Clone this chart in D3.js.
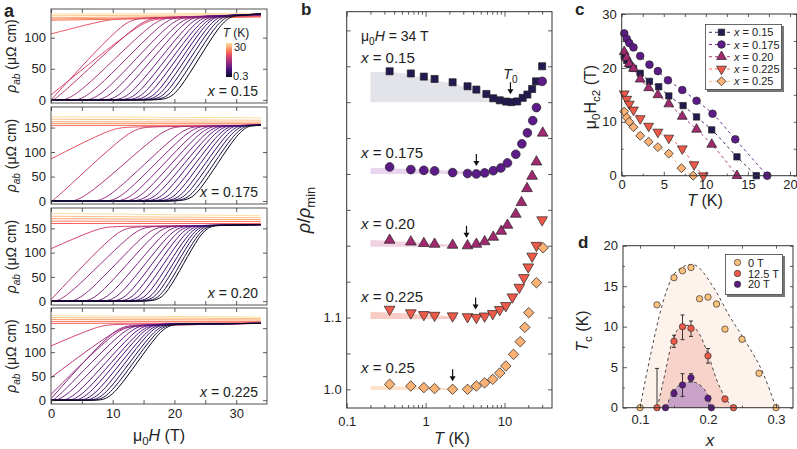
<!DOCTYPE html>
<html><head><meta charset="utf-8">
<script src="https://cdn.jsdelivr.net/npm/d3@7"></script>
<style>body{margin:0;background:#fff}</style>
</head><body>
<svg id="chart" width="797" height="449"></svg>
<script>
const FONT = '"Liberation Sans", Arial, Helvetica, sans-serif';

// ================= DATA =================
// panel a: rows [T (K), rho at 0 T, field where rise starts, field where rise ends, rho at end of rise, rho at 34 T]
const a015 = [
 [0.3,0,20.2,27.8,134,138],[0.5,0,19.4,27.2,134,138],[0.7,0,18.6,26.6,134,138],[1.0,0,17.8,26.0,134,138],
 [1.3,0,17.0,25.4,134,138],[1.6,0,16.0,24.8,133,138],[2.0,0,15.0,24.2,133,138],[2.5,0,13.9,23.5,133,138],
 [3.0,0,12.7,22.7,133,138],[3.6,0,11.2,21.8,133,137],[4.3,0,9.6,20.8,132,137],[5.1,0,7.9,19.7,132,137],
 [6.0,0,6.0,18.4,132,137],[7.2,0,3.8,16.8,131,136],[8.6,0,0.9,14.7,131,136],[10,0,0,12,130,136],
 [12,8,0,15,129,135],[14,106,0,9,129,135],
 [17,128,null,null,128,133],[20,130,null,null,130,134],[23,132,null,null,132,135],[26,135,null,null,135,137],[30,138,null,null,138,139]
];
const a0175 = [
 [0.3,0,23.4,30.6,153,155],[0.5,0,22.7,30.1,153,155],[0.7,0,21.9,29.5,153,155],[1.0,0,21.1,28.9,153,155],
 [1.3,0,20.2,28.2,153,155],[1.6,0,19.2,27.6,153,155],[2.0,0,18.1,26.9,153,155],[2.5,0,17.0,26.2,153,155],
 [3.0,0,15.8,25.4,152,155],[3.6,0,14.5,24.5,152,155],[4.3,0,13.0,23.6,152,155],[5.1,0,11.3,22.5,152,155],
 [6.0,0,9.2,21.2,151,155],[7.5,0,5.3,18.3,151,155],[10,0,0.4,13,150,155],[13,86,0,10,150,155],
 [17,154,null,null,154,155],[20,158,null,null,158,158],[23,162,null,null,162,161],[26,167,null,null,167,165],[30,172,null,null,172,170]
];
const a020 = [
 [0.3,0,18.5,24.5,155,158],[0.5,0,17.9,24.1,155,158],[0.7,0,17.2,23.6,155,158],[1.0,0,16.5,23.1,155,158],
 [1.3,0,15.6,22.6,155,158],[1.6,0,14.6,22.0,155,158],[2.0,0,13.5,21.3,155,158],[2.5,0,12.3,20.5,154,158],
 [3.0,0,10.9,19.7,154,158],[3.6,0,9.3,18.7,154,158],[4.3,0,7.4,17.4,154,157],[5.1,0,5.1,15.9,153,157],
 [6.3,0,2.2,13.8,153,157],[8,3,0,11,152,157],[11,108,0,8,153,157],
 [15,160,null,null,160,160],[18,165,null,null,165,164],[22,170,null,null,170,168],[26,175,null,null,175,172],[30,181,null,null,181,176]
];
const a0225 = [
 [0.3,0,10.0,18.0,158,160],[0.5,0,9.3,17.5,158,160],[0.7,0,8.6,17.0,158,160],[1.0,0,7.8,16.4,158,160],
 [1.3,0,6.9,15.9,158,160],[1.6,0,5.9,15.3,158,160],[2.0,0,4.9,14.7,157,160],[2.5,0,3.8,14.0,157,160],
 [3.0,0,2.4,13.2,157,160],[3.6,0,0.8,12.2,156,160],[4.5,3,0,10.5,155,160],[6,12,0,11,153,160],
 [8,47,0,11,153,160],[11,113,0,8,157,161],
 [15,160,null,null,160,161],[18,164,null,null,164,164],[22,168,null,null,168,167],[26,172,null,null,172,170],[30,176,null,null,176,173]
];
const aLabels = ["0.15","0.175","0.20","0.225"];
const aYTicks = [[0,50,100],[0,50,100,150],[0,50,100,150],[0,50,100,150]];
const aXTicks = [0,10,20,30];

// panel b: rho/rho_min vs T at 34 T
const bNames = ["0.15","0.175","0.20","0.225","0.25"];
const bT015  = [0.35,0.65,0.95,1.3,2.2,3.4,4.4,5.9,7.2,8.7,10.5,12.2,14.5,17,19.5,22.4,25.1,30];
const bR015  = [1.043,1.040,1.0356,1.0323,1.0277,1.0221,1.0175,1.0114,1.0054,1.0026,1.0008,1.0,1.001,1.006,1.0106,1.0184,1.029,1.050];
const bT0175 = [0.35,0.65,0.95,1.3,2.2,3.4,4.4,5.6,7.2,9.0,10.9,13.9,16.6,19.5,22.8,25.4,30];
const bR0175 = [1.0097,1.0061,1.0051,1.0042,1.0019,1.0006,1.0,1.0014,1.0045,1.0083,1.0153,1.0274,1.042,1.0573,1.0743,1.0925,1.129];
const bT020  = [0.35,0.65,0.95,1.3,2.2,3.4,4.4,5.6,7.2,9.1,10.9,13.9,16.4,19.3,22.4,25.4,30.5];
const bR020  = [1.0078,1.0054,1.0032,1.0022,1.0008,1.0,1.0022,1.0057,1.012,1.0203,1.0287,1.044,1.0603,1.0797,1.0969,1.1168,1.157];
const bT0225 = [0.35,0.65,0.95,1.3,2.2,3.4,4.4,5.6,7.1,8.7,10.4,12.6,15.4,17.6,20.0,22.4,25.4,30];
const bR0225 = [1.0114,1.0064,1.004,1.003,1.0022,1.001,1.0,1.002,1.0054,1.011,1.0165,1.0286,1.042,1.0555,1.0704,1.0854,1.1004,1.136];
const bT025  = [0.35,0.65,0.95,1.3,2.2,3.4,4.4,5.6,7.1,8.7,10.4,13.0,15.8,18.1,20.3,25.4,30.9];
const bR025  = [1.007,1.0046,1.0024,1.001,1.0,1.0,1.0046,1.009,1.0139,1.0227,1.0325,1.0487,1.0664,1.0863,1.1068,1.1485,1.1972];
const bOffsets = [0.4,0.3,0.2,0.1,0];
const bT0 = [11.9,4.4,3.3,4.3,2.2];
// shaded bands [T, low, high]
const bBand015  = [[0.2,1.0,1.042],[0.35,1.0,1.042],[0.65,1.0,1.038],[0.95,1.0,1.034],[1.3,1.0,1.031],[2.2,1.0,1.026],[3.4,1.0,1.020],[4.4,1.0,1.016],[5.9,1.0,1.010],[7.2,1.0,1.005],[8.7,1.0,1.002],[11,1.0,1.0]];
const bBand0175 = [[0.2,1.0,1.0085],[0.5,1.0,1.0072],[1,1.0,1.006],[2,1.0,1.0045],[3.5,1.0,1.0035]];
const bBand020  = [[0.2,0.9985,1.008],[0.5,0.9985,1.006],[1,0.9985,1.004],[2.1,0.9985,1.0015]];
const bBand0225 = [[0.2,0.998,1.008],[0.5,0.998,1.006],[1,0.998,1.004],[2.5,0.998,1.001]];
const bBand025  = [[0.2,0.999,1.005],[0.5,0.999,1.004],[1,0.999,1.003],[2,0.999,1.0015]];

// panel c: Hc2 vs T
const cT015  = [0.3,0.6,0.9,1.4,2.2,3.3,4.4,5.6,7.3,8.9,10.7,13.7,16.0];
const cH015  = [22.2,21.4,20.6,19.9,19.0,17.5,16.5,14.8,13.0,10.9,8.5,3.5,0];
const cT0175 = [0.3,0.6,0.9,1.4,2.2,3.3,4.3,5.5,7.2,8.9,10.8,13.5,17.3];
const cH0175 = [26.4,25.4,24.6,23.8,22.2,20.6,19.4,17.7,15.9,13.9,11.5,6.75,0];
const cT020  = [0.3,0.6,0.9,1.4,2.2,3.2,4.3,5.6,7.2,8.9,10.7,13.7];
const cH020  = [23.0,21.9,20.8,19.9,17.9,16.3,15.0,13.3,11.0,8.6,5.8,0];
const cT0225 = [0.3,0.6,0.9,1.4,2.2,3.2,4.3,5.6,7.2,8.6,9.7];
const cH0225 = [15.2,14.2,13.3,12.2,10.6,9.2,8.1,7.0,5.0,2.05,0];
const cT025  = [0.3,0.6,0.9,1.4,2.2,3.2,4.3,5.6,7.1,8.5];
const cH025  = [11.9,10.8,10.0,9.0,7.4,6.3,5.3,4.1,1.4,0];

// panel d: Tc vs x
const dX0   = [0.1,0.125,0.15,0.1625,0.175,0.1875,0.2,0.2125,0.225,0.25,0.275,0.3];
const dTc0  = [0,12.7,16.05,16.9,17.3,13.45,13.65,12.8,9.7,8.45,4.25,0];
const dX12  = [0.125,0.15,0.1625,0.175,0.2,0.225,0.2375];
const dTc12 = [0,8.2,10.0,9.8,6.4,1.07,0];
const dLo12 = [0,7.45,8.4,8.8,5.5,0.75,null];
const dHi12 = [4.85,8.95,11.45,10.7,7.3,1.4,null];
const dX20  = [0.1375,0.15,0.1625,0.175,0.2,0.205];
const dTc20 = [0,1.78,2.8,3.7,1.16,0];
const dLo20 = [null,1.4,1.4,3.2,0.9,null];
const dHi20 = [null,2.2,4.2,4.2,1.4,null];
const dDomeX0  = [0.1,0.117,0.132,0.1466,0.1637,0.175,0.181,0.2078,0.2324,0.257,0.281,0.3];
const dDomeY0  = [0,7.1,12.5,16.0,17.4,17.7,17.6,14.9,11.2,7.95,4.25,0];
const dDomeX12 = [0.1255,0.1368,0.1466,0.159,0.1735,0.188,0.2005,0.213,0.2275,0.2375];
const dDomeY12 = [0,4.25,7.95,9.9,10.2,9.0,6.5,3.4,0.95,0];
const dDomeX20 = [0.138,0.149,0.1637,0.176,0.191,0.2005,0.2055];
const dDomeY20 = [0,2.0,3.0,3.2,2.6,1.35,0];
const dLegend = ["0 T","12.5 T","20 T"];

// ================= STYLE =================
const serColors = ["#221a50","#5c1b88","#a0296f","#ee5a49","#fbb274"];
const serFills  = ["#e3e3ea","#e8d5ee","#f0d2e0","#f9cdc5","#fde3cb"];
const dColors = ["#fcc27c","#ee5a49","#5b1a82"];
const dFills  = ["#fdf3ec","#f7d3ca","#c9a2c9"];
const ink = "#333";

const svg = d3.select("#chart");
const aColor = T => d3.interpolateMagma(0.05 + 0.88*Math.sqrt((T-0.3)/29.7));

function axis(gen, scale, vals, size, fmt, pad, tx, ty, fs) {
  const a = gen(scale).tickValues(vals).tickSize(size).tickPadding(pad).tickFormat(fmt || (() => ""));
  const g = svg.append("g").attr("transform", `translate(${tx},${ty})`).call(a);
  g.select(".domain").remove();
  g.selectAll("line").attr("stroke", ink).attr("stroke-width", 0.8);
  g.selectAll("text").attr("font-family", FONT).attr("font-size", fs || 13).attr("fill", "#222");
  return g;
}
function frame(x0, y0, x1, y1, col) {
  svg.append("rect").attr("x", x0).attr("y", y0).attr("width", x1 - x0).attr("height", y1 - y0)
    .attr("fill", "none").attr("stroke", col || ink).attr("stroke-width", 1);
}
function label(x, y, parts, size, opts) {
  opts = opts || {};
  const t = svg.append("text").attr("x", x).attr("y", y).attr("font-family", FONT)
    .attr("font-size", size).attr("fill", opts.fill || "#222").attr("text-anchor", opts.anchor || "start");
  if (opts.rotate) t.attr("transform", `rotate(-90,${x},${y})`);
  if (opts.bold) t.attr("font-weight", "bold");
  parts.forEach(p => {
    const s = t.append("tspan").text(p.t);
    if (p.i) s.attr("font-style", "italic");
    if (p.sub) s.attr("font-size", size * 0.72).attr("dy", size * 0.28);
    if (p.up) s.attr("dy", -size * 0.28);
  });
  return t;
}
function sym(type, size) {
  if (type === "circle") return d3.symbol(d3.symbolCircle, size)();
  if (type === "triangle" || type === "down") return d3.symbol(d3.symbolTriangle, size)();
  return d3.symbol(d3.symbolSquare, size)();
}
function symRot(type) { return type === "down" ? 180 : (type === "diamond" ? 45 : 0); }
const shapes = ["square","circle","triangle","down","diamond"];

// ================= PANEL A =================
const aX = d3.scaleLinear().domain([0, 35]).range([51, 267]);
const aBoxes = [[9,103,[-5,146]],[107,204,[-6,192]],[208,305,[-8,192]],[308,404,[-8,192]]];
const aSets = [a015, a0175, a020, a0225];
const defs = svg.append("defs");
aSets.forEach((rows, i) => {
  const [top, bot, dom] = aBoxes[i];
  const y = d3.scaleLinear().domain(dom).range([bot, top]);
  defs.append("clipPath").attr("id", "clipa" + i).append("rect")
    .attr("x", 51).attr("y", top).attr("width", 216).attr("height", bot - top);
  const g = svg.append("g").attr("clip-path", `url(#clipa${i})`);
  const lineB = d3.line().x(d => aX(d[0])).y(d => y(d[1])).curve(d3.curveBasis);
  rows.slice().reverse().forEach(r => {
    const [T, r0, hs, he, tp, r34] = r;
    let pts;
    if (hs === null) pts = [[0, r0], [34, r34]];
    else {
      pts = [[0, r0]];
      if (hs > 2.5) pts.push([hs - 2.5, r0]);
      if (hs > 0) pts.push([hs, r0]);
      pts.push([he, tp]);
      if (he + 2.5 < 33.5) pts.push([he + 2.5, tp + (r34 - tp) * 0.3]);
      pts.push([34, r34]);
    }
    g.append("path").attr("d", lineB(pts)).attr("fill", "none")
      .attr("stroke", aColor(T)).attr("stroke-width", 1);
  });
  frame(51, top, 267, bot, "#555");
  axis(d3.axisLeft, y, aYTicks[i], -4, d3.format("d"), 5, 51, 0);
  axis(d3.axisRight, y, aYTicks[i], -4, null, 0, 267, 0);
  axis(d3.axisTop, aX, [0,5,10,15,20,25,30], -4, null, 0, 0, top);
  axis(d3.axisBottom, aX, [0,5,10,15,20,25,30], -4, i === 3 ? (d => aXTicks.includes(d) ? d : "") : null, 5, 0, bot);
  label(258, bot - 7, [{t:"x", i:true},{t:" = " + aLabels[i]}], 14, {anchor:"end"});
  label(16, (top + bot) / 2, [{t:"ρ", i:true},{t:"ab", i:true, sub:true},{t:" (μΩ cm)", up:true}], 14, {anchor:"middle", rotate:true});
});
// colorbar
const grad = defs.append("linearGradient").attr("id", "cbar").attr("x1", 0).attr("y1", 1).attr("x2", 0).attr("y2", 0);
d3.range(0, 1.0001, 0.05).forEach(f => grad.append("stop").attr("offset", f)
  .attr("stop-color", aColor(0.3 + 29.7 * f * f)));
svg.append("rect").attr("x", 226).attr("y", 43).attr("width", 6).attr("height", 34).attr("fill", "url(#cbar)");
label(234, 51, [{t:"30"}], 11);
label(233, 80, [{t:"0.3"}], 11);
label(236, 37, [{t:"T", i:true},{t:" (K)"}], 12, {anchor:"middle"});
label(159, 441, [{t:"μ"},{t:"0", sub:true},{t:"H", i:true, up:true},{t:" (T)"}], 16, {anchor:"middle"});
label(4, 17, [{t:"a"}], 18, {bold:true});

// ================= PANEL B =================
const bX = d3.scaleLog().domain([0.1, 40]).range([346.7, 552]);
const bY = d3.scaleLinear().domain([0.974, 1.526]).range([408, 11.7]);
const bTs = [bT015, bT0175, bT020, bT0225, bT025];
const bRs = [bR015, bR0175, bR020, bR0225, bR025];
const bBands = [bBand015, bBand0175, bBand020, bBand0225, bBand025];
bBands.forEach((band, i) => {
  const off = bOffsets[i];
  const area = d3.area().x(d => bX(d[0])).y0(d => bY(d[1] + off)).y1(d => bY(d[2] + off)).curve(d3.curveMonotoneX);
  svg.append("path").attr("d", area(band)).attr("fill", serFills[i]);
});
bTs.forEach((Ts, i) => {
  const off = bOffsets[i];
  const sizes = {square:50, circle:60, triangle:50, down:50, diamond:55};
  Ts.forEach((T, j) => {
    svg.append("path").attr("d", sym(shapes[i], sizes[shapes[i]]))
      .attr("transform", `translate(${bX(T)},${bY(bRs[i][j] + off)}) rotate(${symRot(shapes[i])})`)
      .attr("fill", serColors[i]).attr("stroke", "#222").attr("stroke-width", 0.7);
  });
  const ax = bX(bT0[i]), ay = bY(1 + off) - 8;
  svg.append("line").attr("x1", ax).attr("x2", ax).attr("y1", ay - 12).attr("y2", ay - 3)
    .attr("stroke", "#111").attr("stroke-width", 1.2);
  svg.append("path").attr("d", `M${ax-3},${ay-5}L${ax+3},${ay-5}L${ax},${ay}Z`).attr("fill", "#111");
});
label(bX(bT0[0]), 79, [{t:"T", i:true},{t:"0", sub:true}], 14, {anchor:"middle"});
const bLabelY = [63, 158, 229, 302, 373];
bNames.forEach((n, i) => label(361, bLabelY[i], [{t:"x", i:true},{t:" = " + n}], 15));
label(361, 41, [{t:"μ"},{t:"0", sub:true},{t:"H", i:true, up:true},{t:" = 34 T"}], 14);
frame(346.7, 11.7, 552, 408);
const bMajor = [0.1, 1, 10];
const bMinor = [0.2,0.3,0.4,0.5,0.6,0.7,0.8,0.9,2,3,4,5,6,7,8,9,20,30];
axis(d3.axisBottom, bX, bMajor, -5, d => d < 1 ? "0.1" : d3.format("d")(d), 9, 0, 408);
axis(d3.axisBottom, bX, bMinor, -3, null, 0, 0, 408);
axis(d3.axisTop, bX, bMajor, -5, null, 0, 0, 11.7);
axis(d3.axisTop, bX, bMinor, -3, null, 0, 0, 11.7);
const bYTicks = [1.0,1.05,1.1,1.15,1.2,1.25,1.3,1.35,1.4,1.45,1.5];
axis(d3.axisLeft, bY, bYTicks, -4, d => (Math.abs(d - 1.0) < 1e-6 || Math.abs(d - 1.1) < 1e-6) ? d.toFixed(1) : "", 5, 346.7, 0);
axis(d3.axisRight, bY, bYTicks, -4, null, 0, 552, 0);
label(310, 210, [{t:"ρ", i:true},{t:"/"},{t:"ρ", i:true},{t:"min", sub:true}], 18, {anchor:"middle", rotate:true});
label(452, 444, [{t:"T", i:true},{t:" (K)"}], 16, {anchor:"middle"});
label(301, 15, [{t:"b"}], 17, {bold:true});

// ================= PANEL C =================
const cX = d3.scaleLinear().domain([0, 20.8]).range([621.7, 796.7]);
const cY = d3.scaleLinear().domain([0, 30]).range([175.7, 14]);
const cTs = [cT015, cT0175, cT020, cT0225, cT025];
const cHs = [cH015, cH0175, cH020, cH0225, cH025];
const cSizes = {square:40, circle:46, triangle:42, down:42, diamond:40};
const cLine = d3.line().x(d => cX(d[0])).y(d => cY(d[1])).curve(d3.curveMonotoneX);
cTs.forEach((Ts, i) => {
  svg.append("path").attr("d", cLine(Ts.map((t, j) => [t, cHs[i][j]]))).attr("fill", "none")
    .attr("stroke", serColors[i]).attr("stroke-width", 0.9).attr("stroke-dasharray", "3,3");
});
cTs.forEach((Ts, i) => {
  Ts.forEach((T, j) => {
    svg.append("path").attr("d", sym(shapes[i], cSizes[shapes[i]]))
      .attr("transform", `translate(${cX(T)},${cY(cHs[i][j])}) rotate(${symRot(shapes[i])})`)
      .attr("fill", serColors[i]).attr("stroke", "#222").attr("stroke-width", 0.7);
  });
});
frame(621.7, 14, 796.7, 175.7);
axis(d3.axisBottom, cX, [0,5,10,15,20], -4, d3.format("d"), 4, 0, 175.7);
axis(d3.axisBottom, cX, [2.5,7.5,12.5,17.5], -2, null, 0, 0, 175.7);
axis(d3.axisTop, cX, [0,2.5,5,7.5,10,12.5,15,17.5,20], -3, null, 0, 0, 14);
axis(d3.axisLeft, cY, [0,10,20,30], -4, d3.format("d"), 5, 621.7, 0);
axis(d3.axisLeft, cY, [5,15,25], -2, null, 0, 621.7, 0);
axis(d3.axisRight, cY, [0,5,10,15,20,25,30], -3, null, 0, 796.7, 0);
svg.append("rect").attr("x", 707).attr("y", 26).attr("width", 77).attr("height", 66).attr("fill", "#777");
svg.append("rect").attr("x", 705.5).attr("y", 24.5).attr("width", 76).attr("height", 65).attr("fill", "#fff").attr("stroke", "#444").attr("stroke-width", 0.8);
const cLegY = [32.3, 44.5, 56.7, 69, 81.3];
bNames.forEach((n, i) => {
  svg.append("line").attr("x1", 709).attr("x2", 733).attr("y1", cLegY[i]).attr("y2", cLegY[i])
    .attr("stroke", serColors[i]).attr("stroke-width", 0.9).attr("stroke-dasharray", "3,3");
  svg.append("path").attr("d", sym(shapes[i], cSizes[shapes[i]]))
    .attr("transform", `translate(721.5,${cLegY[i]}) rotate(${symRot(shapes[i])})`)
    .attr("fill", serColors[i]).attr("stroke", "#222").attr("stroke-width", 0.7);
  label(734, cLegY[i] + 4, [{t:"x", i:true},{t:" = " + n}], 11);
});
label(596, 97, [{t:"μ"},{t:"0", sub:true},{t:"H", up:true},{t:"c2", sub:true},{t:" (T)", up:true}], 16, {anchor:"middle", rotate:true});
label(705, 206, [{t:"T", i:true},{t:" (K)"}], 16, {anchor:"middle"});
label(575, 15, [{t:"c"}], 17, {bold:true});

// ================= PANEL D =================
const dXs = d3.scaleLinear().domain([0.075, 0.325]).range([623, 793]);
const dY = d3.scaleLinear().domain([0, 20]).range([407.7, 245.7]);
const domeArea = d3.area().x(d => dXs(d[0])).y0(dY(0)).y1(d => dY(d[1])).curve(d3.curveMonotoneX);
const domeLine = d3.line().x(d => dXs(d[0])).y(d => dY(d[1])).curve(d3.curveMonotoneX);
const domes = [[dDomeX0, dDomeY0], [dDomeX12, dDomeY12], [dDomeX20, dDomeY20]];
domes.forEach(([xs, ys], i) => {
  const pts = xs.map((x, j) => [x, ys[j]]);
  svg.append("path").attr("d", domeArea(pts)).attr("fill", dFills[i]);
});
domes.forEach(([xs, ys]) => {
  const pts = xs.map((x, j) => [x, ys[j]]);
  svg.append("path").attr("d", domeLine(pts)).attr("fill", "none").attr("stroke", "#333")
    .attr("stroke-width", 0.9).attr("stroke-dasharray", "3,3");
});
function errbars(xs, lo, hi) {
  xs.forEach((x, j) => {
    if (lo[j] === null) return;
    const px = dXs(x);
    svg.append("line").attr("x1", px).attr("x2", px).attr("y1", dY(lo[j])).attr("y2", dY(hi[j])).attr("stroke", "#222").attr("stroke-width", 0.9);
    [lo[j], hi[j]].forEach(v => svg.append("line").attr("x1", px - 2).attr("x2", px + 2).attr("y1", dY(v)).attr("y2", dY(v)).attr("stroke", "#222").attr("stroke-width", 0.9));
  });
}
errbars(dX12, dLo12, dHi12);
errbars(dX20, dLo20, dHi20);
[[dX0, dTc0], [dX12, dTc12], [dX20, dTc20]].forEach(([xs, ys], i) => {
  xs.forEach((x, j) => svg.append("circle").attr("cx", dXs(x)).attr("cy", dY(ys[j])).attr("r", 3.2)
    .attr("fill", dColors[i]).attr("stroke", "#333").attr("stroke-width", 0.7));
});
frame(623, 245.7, 793, 407.7);
axis(d3.axisBottom, dXs, [0.1,0.2,0.3], -4, d3.format(".1f"), 7, 0, 407.7);
axis(d3.axisBottom, dXs, [0.15,0.25], -2, null, 0, 0, 407.7);
axis(d3.axisTop, dXs, [0.1,0.15,0.2,0.25,0.3], -3, null, 0, 0, 245.7);
axis(d3.axisLeft, dY, [0,5,10,15,20], -4, d3.format("d"), 5, 623, 0);
axis(d3.axisLeft, dY, [2.5,7.5,12.5,17.5], -2, null, 0, 623, 0);
axis(d3.axisRight, dY, [0,2.5,5,7.5,10,12.5,15,17.5,20], -3, null, 0, 793, 0);
svg.append("rect").attr("x", 727).attr("y", 256).attr("width", 58).attr("height", 41).attr("fill", "#777");
svg.append("rect").attr("x", 725.5).attr("y", 254.5).attr("width", 57).attr("height", 40).attr("fill", "#fff").attr("stroke", "#444").attr("stroke-width", 0.8);
const dLegY = [262.5, 273.5, 284.3];
dLegend.forEach((n, i) => {
  svg.append("circle").attr("cx", 737.5).attr("cy", dLegY[i]).attr("r", 3.2).attr("fill", dColors[i]).attr("stroke", "#333").attr("stroke-width", 0.7);
  label(748, dLegY[i] + 4, [{t:n}], 11);
});
label(588, 331, [{t:"T", i:true},{t:"c", sub:true},{t:" (K)", up:true}], 16, {anchor:"middle", rotate:true});
label(710, 446, [{t:"x", i:true}], 17, {anchor:"middle"});
label(578, 248, [{t:"d"}], 17, {bold:true});
</script>
</body></html>
